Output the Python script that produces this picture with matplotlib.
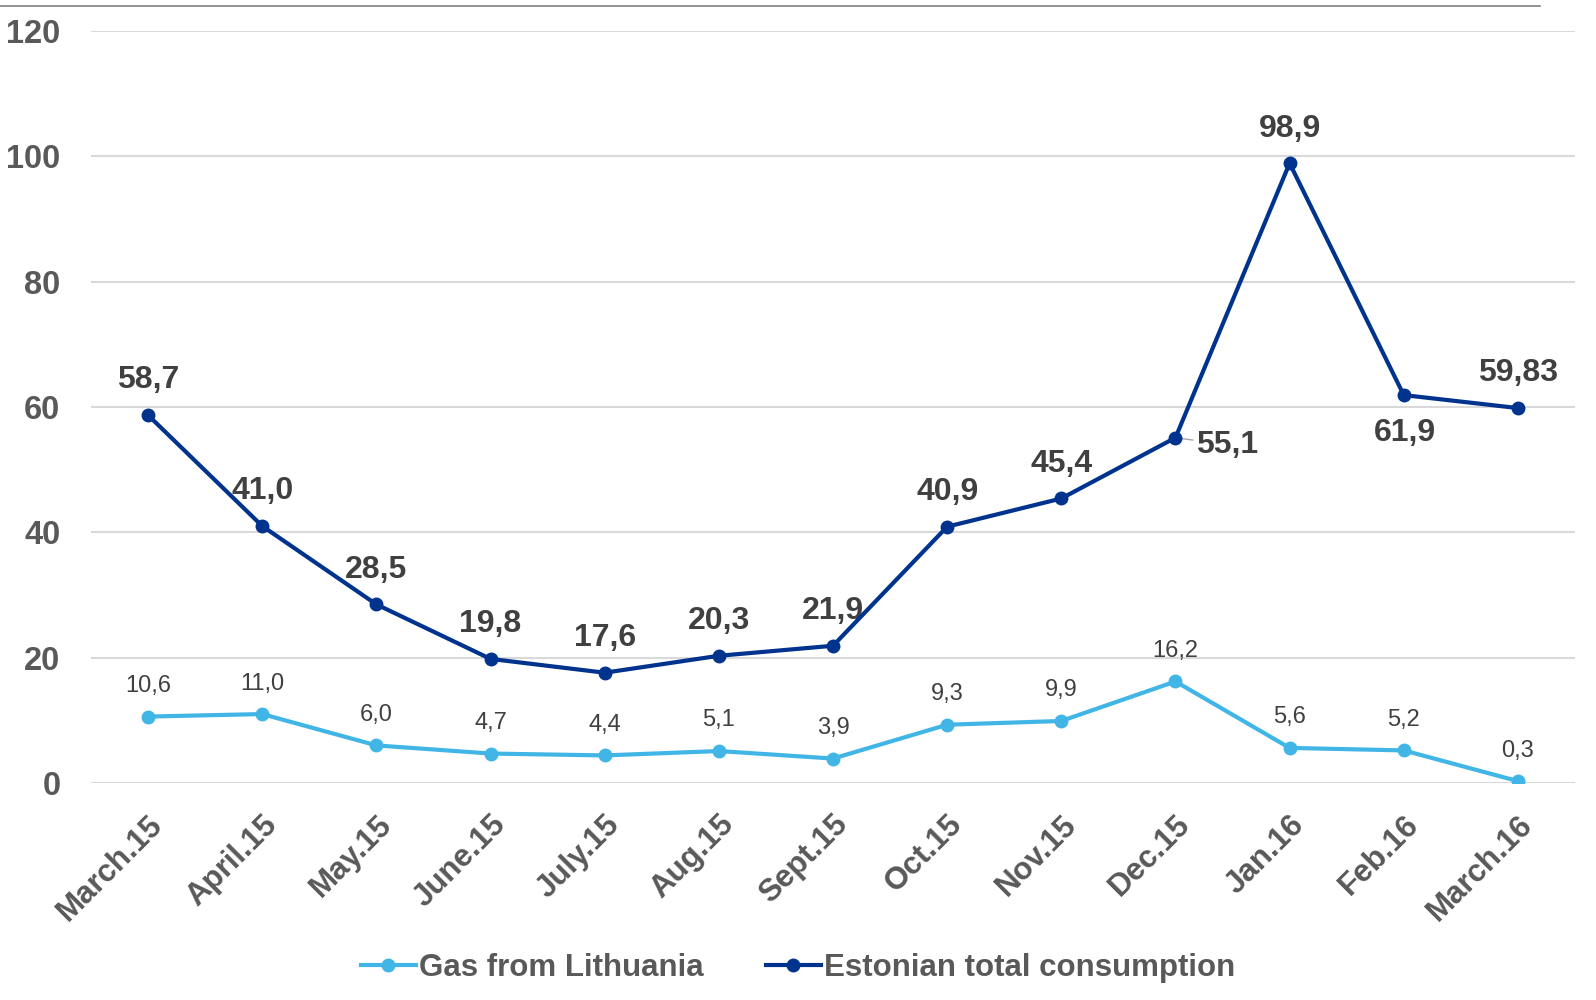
import matplotlib
matplotlib.use("Agg")
import matplotlib.pyplot as plt
from matplotlib.lines import Line2D

months = ["March.15", "April.15", "May.15", "June.15", "July.15", "Aug.15", "Sept.15",
          "Oct.15", "Nov.15", "Dec.15", "Jan.16", "Feb.16", "March.16"]
lithuania = [10.6, 11.0, 6.0, 4.7, 4.4, 5.1, 3.9, 9.3, 9.9, 16.2, 5.6, 5.2, 0.3]
lithuania_labels = ["10,6", "11,0", "6,0", "4,7", "4,4", "5,1", "3,9", "9,3", "9,9", "16,2", "5,6", "5,2", "0,3"]
estonia = [58.7, 41.0, 28.5, 19.8, 17.6, 20.3, 21.9, 40.9, 45.4, 55.1, 98.9, 61.9, 59.83]
estonia_labels = ["58,7", "41,0", "28,5", "19,8", "17,6", "20,3", "21,9", "40,9", "45,4", "55,1", "98,9", "61,9", "59,83"]
yticks = [0, 20, 40, 60, 80, 100, 120]

plt.rcParams['font.family'] = ['Liberation Sans', 'DejaVu Sans']

LIGHT = "#41B6E6"
DARK = "#00338D"
TXT = "#404040"
TICK = "#595959"

fig = plt.figure(figsize=(15.96, 10), dpi=100)
ax = fig.add_axes([91/1596, 1-783/1000, (1575-91)/1596, (783-31)/1000])

x = list(range(len(months)))
ax.plot(x, lithuania, color=LIGHT, lw=3, marker='o', ms=9, label="Gas from Lithuania", zorder=3)
ax.plot(x, estonia, color=DARK, lw=3, marker='o', ms=9, label="Estonian total consumption", zorder=4)

ax.set_xlim(-0.5, len(months) - 0.5)
ax.set_ylim(0, 120)
ax.set_yticks(yticks)
ax.set_yticklabels([str(v) for v in yticks], fontsize=23.5, fontweight='bold', color=TICK)
ax.set_xticks(x)
ax.set_xticklabels(months, rotation=45, ha='right', rotation_mode='anchor',
                   fontsize=22.5, fontweight='bold', color=TICK)
ax.tick_params(axis='y', length=0, pad=22)
ax.tick_params(axis='x', length=0, pad=19)
ax.grid(axis='y', color='#D9D9D9', lw=1.5)
ax.set_axisbelow(True)
for s in ax.spines.values():
    s.set_visible(False)

for i, (v, lab) in enumerate(zip(lithuania, lithuania_labels)):
    ax.annotate(lab, (i, v), xytext=(0, 22), textcoords='offset points',
                ha='center', va='center', fontsize=17, color=TXT)

for i, (v, lab) in enumerate(zip(estonia, estonia_labels)):
    if lab == "55,1":
        ax.annotate(lab, (i, v), xytext=(37, -5), textcoords='offset points',
                    ha='center', va='center', fontsize=23, fontweight='bold', color=TXT,
                    arrowprops=dict(arrowstyle='-', color='#A6A6A6', lw=1, shrinkA=16, shrinkB=0))
    elif lab == "61,9":
        ax.annotate(lab, (i, v), xytext=(1, -27), textcoords='offset points',
                    ha='center', va='center', fontsize=23, fontweight='bold', color=TXT,
                    arrowprops=dict(arrowstyle='-', color='#A6A6A6', lw=1, shrinkA=12, shrinkB=0))
    else:
        ax.annotate(lab, (i, v), xytext=(0, 25), textcoords='offset points',
                    ha='center', va='center', fontsize=23, fontweight='bold', color=TXT)

fig.add_artist(Line2D([0, 1540/1596], [1-6/1000, 1-6/1000], color='#808080', lw=1.2,
                      transform=fig.transFigure))

fig.legend(loc='center', bbox_to_anchor=(0.5, 0.032), ncol=2, frameon=False,
           prop={'size': 22.5, 'weight': 'bold'}, labelcolor=TICK, handlelength=1.75,
           handletextpad=0.1, columnspacing=2.0)

fig.savefig("out.png", dpi=100)
